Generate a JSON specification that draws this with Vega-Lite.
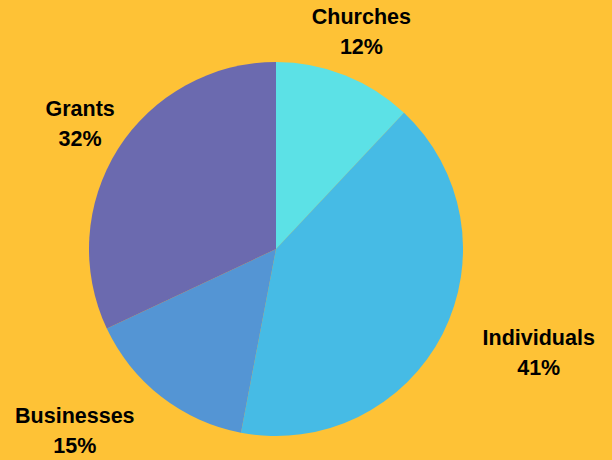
{
  "$schema": "https://vega.github.io/schema/vega-lite/v6.json",
  "width": 552,
  "height": 422,
  "autosize": {"type": "none"},
  "padding": {"left": 0, "top": 38, "right": 60, "bottom": 0},
  "background": "#FEC236",
  "config": {"view": {"stroke": null}},
  "data": {
    "values": [
      {"category": "Churches", "value": 12},
      {"category": "Individuals", "value": 41},
      {"category": "Businesses", "value": 15},
      {"category": "Grants", "value": 32}
    ]
  },
  "transform": [
    {"window": [{"op": "row_number", "as": "idx"}]},
    {"stack": "value", "groupby": [], "sort": [{"field": "idx", "order": "ascending"}], "as": ["v0", "v1"]},
    {"calculate": "(datum.v0 + datum.v1) / 2", "as": "mid"},
    {"calculate": "datum.category + '\\n' + datum.value + '%'", "as": "label"}
  ],
  "layer": [
    {
      "mark": {"type": "arc", "outerRadius": 187, "stroke": null},
      "encoding": {
        "theta": {"field": "v0", "type": "quantitative", "scale": {"domain": [0, 100]}},
        "theta2": {"field": "v1"},
        "color": {
          "field": "category",
          "type": "nominal",
          "scale": {
            "domain": ["Churches", "Individuals", "Businesses", "Grants"],
            "range": ["#5CE1E6", "#46BBE5", "#5495D4", "#6B6AAF"]
          },
          "legend": null
        }
      }
    },
    {
      "transform": [{"filter": "datum.category == 'Churches' || datum.category == 'Grants'"}],
      "mark": {"type": "text", "radius": 232, "dy": -15, "align": "center", "baseline": "middle", "lineBreak": "\n", "lineHeight": 30, "font": "Liberation Sans", "fontWeight": "bold", "fontSize": 21.5, "color": "#000000"},
      "encoding": {
        "theta": {"field": "mid", "type": "quantitative", "scale": {"domain": [0, 100]}},
        "text": {"field": "label"}
      }
    },
    {
      "transform": [{"filter": "datum.category == 'Individuals'"}],
      "mark": {"type": "text", "radius": 232, "dx": 56, "dy": -15, "align": "center", "baseline": "middle", "lineBreak": "\n", "lineHeight": 30, "font": "Liberation Sans", "fontWeight": "bold", "fontSize": 21.5, "color": "#000000"},
      "encoding": {
        "theta": {"field": "mid", "type": "quantitative", "scale": {"domain": [0, 100]}},
        "text": {"field": "label"}
      }
    },
    {
      "transform": [{"filter": "datum.category == 'Businesses'"}],
      "mark": {"type": "text", "radius": 232, "dx": -59, "dy": -15, "align": "center", "baseline": "middle", "lineBreak": "\n", "lineHeight": 30, "font": "Liberation Sans", "fontWeight": "bold", "fontSize": 21.5, "color": "#000000"},
      "encoding": {
        "theta": {"field": "mid", "type": "quantitative", "scale": {"domain": [0, 100]}},
        "text": {"field": "label"}
      }
    }
  ]
}
